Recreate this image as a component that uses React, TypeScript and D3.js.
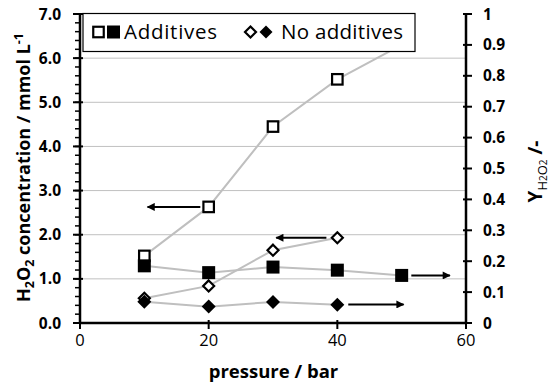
import { useEffect, useRef } from "react";
import * as d3 from "d3";

// pressure (bar)
const pressureAdd = [10, 20, 30, 40, 50];
const pressureNoAdd = [10, 20, 30, 40];
// H2O2 concentration, mmol/L (left axis, open markers)
const concAdd = [1.52, 2.63, 4.45, 5.52, 6.3];
const concNoAdd = [0.56, 0.84, 1.65, 1.93];
// yield Y_H2O2 (right axis, filled markers)
const yieldAdd = [0.185, 0.163, 0.181, 0.171, 0.154];
const yieldNoAdd = [0.069, 0.053, 0.068, 0.059];

const xTicks = [0, 20, 40, 60];
const leftTicks = [0, 1, 2, 3, 4, 5, 6, 7];
const rightTicks = [0, 0.1, 0.2, 0.3, 0.4, 0.5, 0.6, 0.7, 0.8, 0.9, 1];

// arrows pointing to the axis each series belongs to (data units)
const arrows = [
  { from: 18.7, to: 10.5, value: 2.63, axis: "left" },
  { from: 38.3, to: 30.5, value: 1.93, axis: "left" },
  { from: 51.5, to: 57.5, value: 0.154, axis: "right" },
  { from: 41.7, to: 50.3, value: 0.06, axis: "right" },
];

const FONT = "'Open Sans', 'DejaVu Sans', sans-serif";

function App() {
  const ref = useRef(null);

  useEffect(() => {
    const svg = d3.select(ref.current);
    svg.selectAll("*").remove();

    const left = 80, right = 466, top = 14, bottom = 323;
    const x = d3.scaleLinear().domain([0, 60]).range([left, right]);
    const yL = d3.scaleLinear().domain([0, 7]).range([bottom, top]);
    const yR = d3.scaleLinear().domain([0, 1]).range([bottom, top]);

    svg
      .append("defs")
      .append("marker")
      .attr("id", "arrowhead")
      .attr("viewBox", "0 0 10 10")
      .attr("refX", 9)
      .attr("refY", 5)
      .attr("markerWidth", 4.5)
      .attr("markerHeight", 4)
      .attr("markerUnits", "strokeWidth")
      .attr("orient", "auto")
      .append("path")
      .attr("d", "M0,0L10,5L0,10Z")
      .attr("fill", "#000");

    // gridlines
    svg
      .append("g")
      .selectAll("line")
      .data(leftTicks.filter((d) => d > 0 && d < 7))
      .enter()
      .append("line")
      .attr("x1", left)
      .attr("x2", right)
      .attr("y1", (d) => yL(d))
      .attr("y2", (d) => yL(d))
      .attr("stroke", "#c0c0c0")
      .attr("stroke-width", 1);

    // series lines
    const lineL = d3
      .line()
      .x((d) => x(d[0]))
      .y((d) => yL(d[1]));
    const lineR = d3
      .line()
      .x((d) => x(d[0]))
      .y((d) => yR(d[1]));
    const addLine = (pts, gen) =>
      svg
        .append("path")
        .datum(pts)
        .attr("d", gen)
        .attr("fill", "none")
        .attr("stroke", "#bfbfbf")
        .attr("stroke-width", 2);

    const openSq = pressureAdd.map((p, i) => [p, concAdd[i]]);
    const fillSq = pressureAdd.map((p, i) => [p, yieldAdd[i]]);
    const openDi = pressureNoAdd.map((p, i) => [p, concNoAdd[i]]);
    const fillDi = pressureNoAdd.map((p, i) => [p, yieldNoAdd[i]]);

    addLine(openSq, lineL);
    addLine(fillSq, lineR);
    addLine(openDi, lineL);
    addLine(fillDi, lineR);

    const square = (g, cx, cy, s, filled) =>
      g
        .append("rect")
        .attr("x", cx - s / 2)
        .attr("y", cy - s / 2)
        .attr("width", s)
        .attr("height", s)
        .attr("fill", filled ? "#000" : "#fff")
        .attr("stroke", "#000")
        .attr("stroke-width", filled ? 0 : 2.2);
    const diamond = (g, cx, cy, s, filled) =>
      g
        .append("path")
        .attr(
          "d",
          `M${cx},${cy - s / 2}L${cx + s / 2},${cy}L${cx},${cy + s / 2}L${cx - s / 2},${cy}Z`
        )
        .attr("fill", filled ? "#000" : "#fff")
        .attr("stroke", "#000")
        .attr("stroke-width", filled ? 0 : 2.2)
        .attr("stroke-linejoin", "miter");

    const marks = svg.append("g");
    openSq.forEach((d) => square(marks, x(d[0]), yL(d[1]), 10.5, false));
    fillSq.forEach((d) => square(marks, x(d[0]), yR(d[1]), 13, true));
    openDi.forEach((d) => diamond(marks, x(d[0]), yL(d[1]), 11, false));
    fillDi.forEach((d) => diamond(marks, x(d[0]), yR(d[1]), 14, true));

    // arrows
    svg
      .append("g")
      .selectAll("line")
      .data(arrows)
      .enter()
      .append("line")
      .attr("x1", (d) => x(d.from))
      .attr("x2", (d) => x(d.to))
      .attr("y1", (d) => (d.axis === "left" ? yL(d.value) : yR(d.value)))
      .attr("y2", (d) => (d.axis === "left" ? yL(d.value) : yR(d.value)))
      .attr("stroke", "#000")
      .attr("stroke-width", 2)
      .attr("marker-end", "url(#arrowhead)");

    // axes
    const axes = svg.append("g").attr("stroke", "#000");
    // left minor ticks
    axes
      .selectAll(".minor")
      .data(d3.range(0, 7.01, 0.2))
      .enter()
      .append("line")
      .attr("x1", left - 5)
      .attr("x2", left)
      .attr("y1", (d) => yL(d))
      .attr("y2", (d) => yL(d))
      .attr("stroke-width", 1.5);
    axes
      .selectAll(".major")
      .data(leftTicks)
      .enter()
      .append("line")
      .attr("x1", left - 7)
      .attr("x2", left + 3)
      .attr("y1", (d) => yL(d))
      .attr("y2", (d) => yL(d))
      .attr("stroke-width", 2);
    axes
      .selectAll(".rt")
      .data(rightTicks)
      .enter()
      .append("line")
      .attr("x1", right - 3)
      .attr("x2", right + 6)
      .attr("y1", (d) => yR(d))
      .attr("y2", (d) => yR(d))
      .attr("stroke-width", 2);
    axes
      .selectAll(".xt")
      .data(xTicks)
      .enter()
      .append("line")
      .attr("x1", (d) => x(d))
      .attr("x2", (d) => x(d))
      .attr("y1", bottom - 3)
      .attr("y2", bottom + 6)
      .attr("stroke-width", 2);
    axes.append("line").attr("x1", left).attr("x2", left).attr("y1", top - 1).attr("y2", bottom + 1).attr("stroke-width", 2.5);
    axes.append("line").attr("x1", right).attr("x2", right).attr("y1", top - 1).attr("y2", bottom + 1).attr("stroke-width", 2.5);
    axes.append("line").attr("x1", left).attr("x2", right).attr("y1", bottom).attr("y2", bottom).attr("stroke-width", 2.5);

    // tick labels
    const text = svg.append("g").attr("font-family", FONT).attr("fill", "#000");
    text
      .selectAll(".lt")
      .data(leftTicks)
      .enter()
      .append("text")
      .attr("x", left - 19)
      .attr("y", (d) => yL(d) + 5.5)
      .attr("text-anchor", "end")
      .attr("font-size", 15.5)
      .attr("font-weight", "bold")
      .text((d) => d3.format(".1f")(d));
    text
      .selectAll(".rtl")
      .data(rightTicks)
      .enter()
      .append("text")
      .attr("x", right + 17)
      .attr("y", (d) => yR(d) + 5.5)
      .attr("font-size", 15.5)
      .attr("font-weight", "bold")
      .text((d) => d3.format("")(+d.toFixed(1)));
    text
      .selectAll(".xtl")
      .data(xTicks)
      .enter()
      .append("text")
      .attr("x", (d) => x(d))
      .attr("y", bottom + 23)
      .attr("text-anchor", "middle")
      .attr("font-size", 16.5)
      .text((d) => d);

    // axis titles
    text
      .append("text")
      .attr("x", (left + right) / 2 + 0.5)
      .attr("y", 378)
      .attr("text-anchor", "middle")
      .attr("font-size", 18.5)
      .attr("font-weight", "bold")
      .text("pressure / bar");

    const lt = text
      .append("text")
      .attr("transform", `translate(30,${(top + bottom) / 2 - 1}) rotate(-90)`)
      .attr("text-anchor", "middle")
      .attr("font-size", 18)
      .attr("font-weight", "bold");
    lt.append("tspan").text("H");
    lt.append("tspan").attr("font-size", 12.5).attr("dy", 4).text("2");
    lt.append("tspan").attr("dy", -4).text("O");
    lt.append("tspan").attr("font-size", 12.5).attr("dy", 4).text("2");
    lt.append("tspan").attr("dy", -4).text(" concentration / mmol L");
    lt.append("tspan").attr("font-size", 12.5).attr("dy", -7).text("-1");

    const rt = text
      .append("text")
      .attr("transform", `translate(542,${(top + bottom) / 2 + 3}) rotate(-90)`)
      .attr("text-anchor", "middle")
      .attr("font-size", 19)
      .attr("font-weight", "bold");
    rt.append("tspan").text("Y");
    rt.append("tspan").attr("font-size", 13).attr("font-weight", "normal").attr("dy", 5).text("H");
    rt.append("tspan").attr("font-size", 10).attr("font-weight", "normal").attr("dy", 0).text("2");
    rt.append("tspan").attr("font-size", 13).attr("font-weight", "normal").attr("dy", 0).text("O");
    rt.append("tspan").attr("font-size", 10).attr("font-weight", "normal").attr("dy", 0).text("2");
    rt.append("tspan").attr("dy", -5).text(" /-");

    // legend
    const lg = svg.append("g");
    lg.append("rect")
      .attr("x", 83)
      .attr("y", 13.5)
      .attr("width", 332)
      .attr("height", 38)
      .attr("fill", "#fff")
      .attr("stroke", "#000")
      .attr("stroke-width", 1.2);
    square(lg, 98.5, 32, 10.5, false);
    square(lg, 113.5, 32, 13, true);
    diamond(lg, 250.5, 32, 11, false);
    diamond(lg, 266, 32, 13, true);
    lg.append("text")
      .attr("x", 124)
      .attr("y", 39)
      .attr("font-family", FONT)
      .attr("font-size", 20.5)
      .attr("textLength", 93)
      .text("Additives");
    lg.append("text")
      .attr("x", 281)
      .attr("y", 39)
      .attr("font-family", FONT)
      .attr("font-size", 20.5)
      .attr("textLength", 122)
      .text("No additives");
  }, []);

  return (
    <svg
      ref={ref}
      width={550}
      height={387}
      style={{ position: "absolute", left: 0, top: 0, background: "#fff" }}
    />
  );
}

export default App;
